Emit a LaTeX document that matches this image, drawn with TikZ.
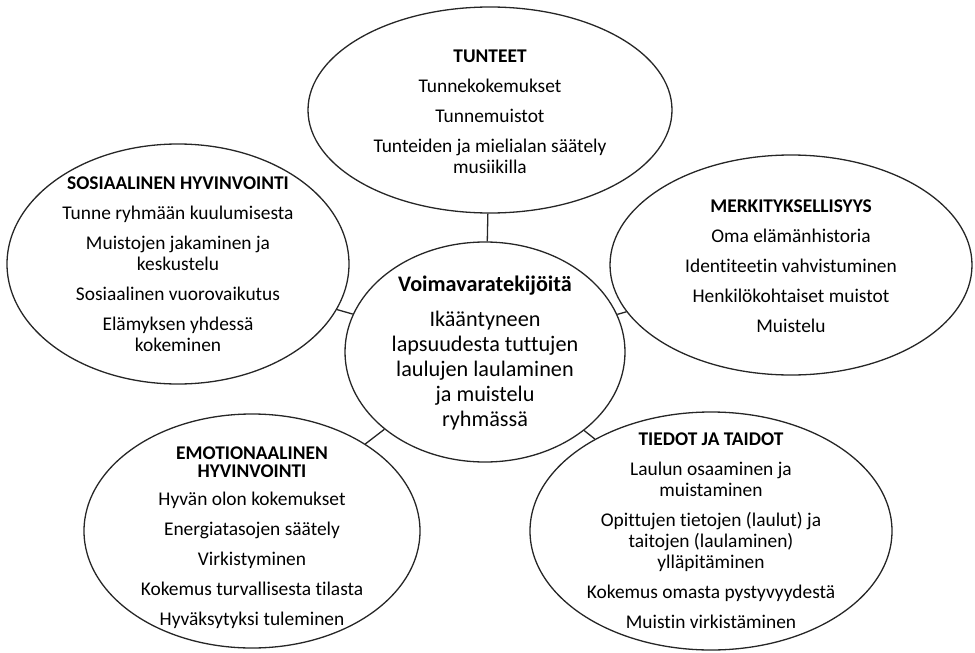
\documentclass[tikz,border=0pt]{standalone}
\usepackage{fontspec}
\setmainfont[Ligatures=NoCommon]{Carlito}
\usetikzlibrary{shapes.geometric}
\begin{document}
\begin{tikzpicture}[x=1pt,y=-1pt,
  bubble/.style={draw=black!85, line width=1.3pt, ellipse, inner sep=0pt},
  txt/.style={align=center, font=\fontsize{19.4}{21}\selectfont, inner sep=0pt},
  ctxt/.style={align=center, font=\fontsize{22.2}{25}\selectfont, inner sep=0pt},
  link/.style={draw=black!85, line width=1.3pt}]
\useasboundingbox (0,0) rectangle (975,653);
% bubbles
\node[bubble, minimum width=364pt, minimum height=206pt] (tun) at (490,110) {};
\node[bubble, minimum width=342pt, minimum height=240pt] (sos) at (178,264) {};
\node[bubble, minimum width=362pt, minimum height=220pt] (mer) at (791,265) {};
\node[bubble, minimum width=280pt, minimum height=220pt] (voi) at (485,352) {};
\node[bubble, minimum width=336pt, minimum height=234pt] (emo) at (252,531) {};
\node[bubble, minimum width=362pt, minimum height=238pt] (tie) at (711,531) {};
% connectors
\draw[link] (voi) -- (tun);
\draw[link] (voi) -- (sos);
\draw[link] (voi) -- (mer);
\draw[link] (voi) -- (emo);
\draw[link] (voi) -- (tie);
% texts
\node[txt] (tuntxt) at (490,112) {\textbf{TUNTEET}\\[9pt]
  Tunnekokemukset\\[9pt]
  Tunnemuistot\\[9pt]
  Tunteiden ja mielialan säätely\\
  musiikilla};
\node[txt] (sostxt) at (178,264) {\textbf{SOSIAALINEN HYVINVOINTI}\\[9pt]
  Tunne ryhmään kuulumisesta\\[9pt]
  Muistojen jakaminen ja\\
  keskustelu\\[9pt]
  Sosiaalinen vuorovaikutus\\[9pt]
  Elämyksen yhdessä\\
  kokeminen};
\node[txt] (mertxt) at (791,266) {\textbf{MERKITYKSELLISYYS}\\[9pt]
  Oma elämänhistoria\\[9pt]
  Identiteetin vahvistuminen\\[9pt]
  Henkilökohtaiset muistot\\[9pt]
  Muistelu};
\node[ctxt] (voitxt) at (485,353) {\textbf{Voimavaratekijöitä}\\[10pt]
  Ikääntyneen\\
  lapsuudesta tuttujen\\
  laulujen laulaminen\\
  ja muistelu\\
  ryhmässä};
\node[txt] (emotxt) at (252,538) {\textbf{EMOTIONAALINEN}\\[-3pt]
  \textbf{HYVINVOINTI}\\[7pt]
  Hyvän olon kokemukset\\[9pt]
  Energiatasojen säätely\\[9pt]
  Virkistyminen\\[9pt]
  Kokemus turvallisesta tilasta\\[9pt]
  Hyväksytyksi tuleminen};
\node[txt] (tietxt) at (711,531) {\textbf{TIEDOT JA TAIDOT}\\[9pt]
  Laulun osaaminen ja\\
  muistaminen\\[9pt]
  Opittujen tietojen (laulut) ja\\
  taitojen (laulaminen)\\
  ylläpitäminen\\[9pt]
  Kokemus omasta pystyvyydestä\\[9pt]
  Muistin virkistäminen};
\end{tikzpicture}
\end{document}
